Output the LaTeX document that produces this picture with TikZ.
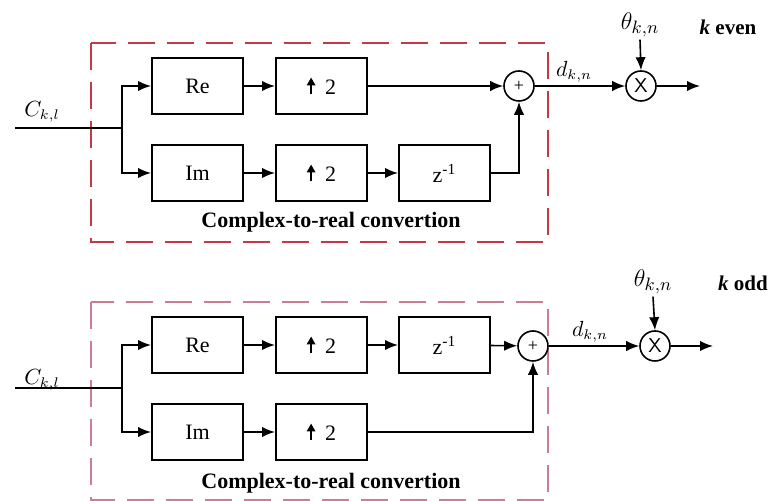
\documentclass[tikz,border=0pt]{standalone}
\usepackage{fontspec}
\setmainfont{Liberation Serif}
\usepackage{tikz}
\usetikzlibrary{positioning,arrows.meta,calc}
\definecolor{framered}{RGB}{200,55,70}
\definecolor{framepink}{RGB}{205,125,145}
\newcommand{\upsamp}{\tikz[baseline=0pt]\draw[-{Triangle[length=4pt,width=4.2pt]}, line width=1.1pt] (0,0) -- (0,8.5pt);\;\,2}

\begin{document}
\begin{tikzpicture}[
        x=0.5pt, y=-0.5pt,
        font=\fontsize{11}{13}\selectfont,
        blk/.style={
            draw=black,
            line width=1pt,
            minimum width=45.5pt,
            minimum height=28pt,
            inner sep=1pt
        },
        op/.style={
            draw=black,
            circle,
            line width=0.8pt,
            minimum size=15pt,
            inner sep=0pt
        },
        frame/.style={
            line width=0.9pt,
            dash pattern=on 13.5pt off 6pt
        },
        title/.style={
            font=\fontsize{11}{13}\selectfont\bfseries
        },
        case/.style={
            font=\fontsize{10.5}{12}\selectfont\bfseries
        },
        sig/.style={
            font=\fontsize{10.5}{12}\selectfont
        },
        arr/.style={
            -{Latex[length=6.5pt,width=5.2pt]},
            line width=0.8pt
        },
        wire/.style={
            line width=0.8pt
        }
    ]
    \useasboundingbox (0,0) rectangle (778,501);

    % =========================
    % Upper branch (k even)
    % =========================
    \draw[frame, draw=framered] (91,43) rectangle (548,242);

    \node[blk] (re1) at (197.5,86) {Re};
    \node[blk, right=15.5pt of re1] (upa1) {\upsamp};
    \node[blk, below=14.5pt of re1] (im1) {Im};
    \node[blk, right=15.5pt of im1] (upb1) {\upsamp};
    \node[blk, right=15pt of upb1] (z1) {z\textsuperscript{-1}};

    \node[op, font=\small] (sum1) at (519,86) {+};
    \node[op, font=\sffamily] (mul1) at (641,86) {X};

    \coordinate (in1) at (15,128);
    \coordinate (split1) at (122,128);
    \coordinate (out1) at (700,86);

    \node[sig] (c1) at (42,112) {$C_{k,l}$};
    \node[sig] (d1) at (574,72) {$d_{k,n}$};
    \node[font=\fontsize{13}{15}\selectfont, inner sep=1pt] (th1) at (640,25) {$\theta_{k,n}$};
    \node[case] (k1) at (728,27) {\textit{k} even};
    \node[title] (ct1) at (331,222) {Complex-to-real convertion};

    \draw[wire] (in1) -- (split1);
    \draw[arr] (split1) |- (re1.west);
    \draw[arr] (split1) |- (im1.west);
    \draw[arr] (re1) -- (upa1);
    \draw[arr] (upa1) -- (sum1);
    \draw[arr] (im1) -- (upb1);
    \draw[arr] (upb1) -- (z1);
    \draw[arr] (z1.east) -| (sum1.south);
    \draw[arr] (sum1) -- (mul1);
    \draw[arr] (th1.south) -- (mul1.north);
    \draw[arr] (mul1) -- (out1);

    % =========================
    % Lower branch (k odd)
    % =========================
    \begin{scope}[yshift=-129.5pt]

    \draw[frame, draw=framepink, line width=0.7pt] (91,43) rectangle (548,241);

    \node[blk] (re2) at (197.5,86) {Re};
    \node[blk, right=15.5pt of re2] (upa2) {\upsamp};
    \node[blk, right=15pt of upa2] (z2) {z\textsuperscript{-1}};
    \node[blk, below=14.5pt of re2] (im2) {Im};
    \node[blk, right=15.5pt of im2] (upb2) {\upsamp};

    \node[op, font=\small] (sum2) at (533,87) {+};
    \node[op, font=\sffamily] (mul2) at (655,87) {X};

    \coordinate (in2) at (15,129);
    \coordinate (split2) at (122,129);
    \coordinate (out2) at (713,87);

    \node[sig] (c2) at (42,121) {$C_{k,l}$};
    \node[sig] (d2) at (590,73) {$d_{k,n}$};
    \node[font=\fontsize{13}{15}\selectfont, inner sep=1pt] (th2) at (653,23) {$\theta_{k,n}$};
    \node[case] (k2) at (743,24) {\textit{k} odd};
    \node[title] (ct2) at (331,224) {Complex-to-real convertion};

    \draw[wire] (in2) -- (split2);
    \draw[arr] (split2) |- (re2.west);
    \draw[arr] (split2) |- (im2.west);
    \draw[arr] (re2) -- (upa2);
    \draw[arr] (upa2) -- (z2);
    \draw[arr] (z2) -- (sum2);
    \draw[arr] (im2) -- (upb2);
    \draw[arr] (upb2.east) -| (sum2.south);
    \draw[arr] (sum2) -- (mul2);
    \draw[arr] (th2.south) -- (mul2.north);
    \draw[arr] (mul2) -- (out2);

    \end{scope}

\end{tikzpicture}
\end{document}
